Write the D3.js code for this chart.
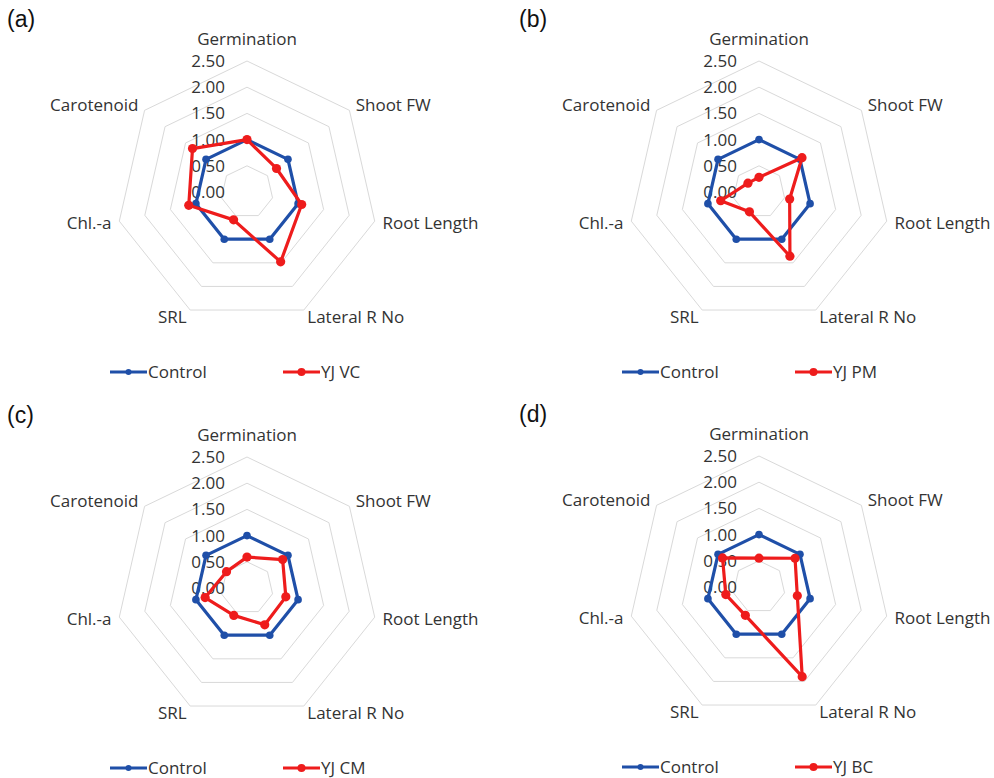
<!DOCTYPE html>
<html>
<head>
<meta charset="utf-8">
<script src="https://cdn.jsdelivr.net/npm/d3@7"></script>
<style>
  body { margin: 0; background: #fff; }
  svg text { font-family: "Open Sans", sans-serif; fill: #333; }
</style>
</head>
<body>
<div id="chart"></div>
<script>
const categories = ['Germination', 'Shoot FW', 'Root Length', 'Lateral R No', 'SRL', 'Chl.-a', 'Carotenoid'];
const tickValues = [0, 0.5, 1, 1.5, 2, 2.5];
const control = [1.00, 1.00, 1.00, 1.00, 1.00, 1.00, 1.00];
const yjVC = [1.00, 0.72, 1.07, 1.48, 0.59, 1.14, 1.33];
const yjPM = [0.28, 1.05, 0.60, 1.36, 0.42, 0.75, 0.27];
const yjCM = [0.59, 0.87, 0.76, 0.78, 0.58, 0.82, 0.50];
const yjBC = [0.55, 0.88, 0.75, 1.90, 0.60, 0.65, 0.89];
const panelLabels = ['(a)', '(b)', '(c)', '(d)'];
const treatmentNames = ['YJ VC', 'YJ PM', 'YJ CM', 'YJ BC'];
const treatments = [yjVC, yjPM, yjCM, yjBC];

const width = 994, height = 778;
const R = 131;
const blue = '#1f4fa8', red = '#ee1c1c';
const centers = [[247, 192], [759, 192], [247, 588], [759, 587]];

const svg = d3.select('#chart').append('svg')
  .attr('width', width)
  .attr('height', height);

const r = d3.scaleLinear().domain([0, 2.5]).range([0, R]);
const angle = d3.scaleLinear().domain([0, categories.length]).range([0, 2 * Math.PI]);

const radial = d3.lineRadial()
  .angle((d, i) => angle(i))
  .radius(d => r(d))
  .curve(d3.curveLinearClosed);

function point(i, v) {
  const a = angle(i) - Math.PI / 2;
  return [Math.cos(a) * r(v), Math.sin(a) * r(v)];
}

function drawPanel(k) {
  const [cx, cy] = centers[k];
  const g = svg.append('g').attr('transform', `translate(${cx},${cy})`);

  // panel letter
  svg.append('text')
    .attr('x', cx - 240)
    .attr('y', cy - 165)
    .style('font-family', '"Liberation Sans", Arial, sans-serif')
    .style('font-size', '23px')
    .style('fill', '#111')
    .text(panelLabels[k]);

  // grid rings
  g.selectAll('.ring')
    .data(tickValues.filter(t => t > 0))
    .enter().append('path')
    .attr('class', 'ring')
    .attr('d', t => radial(categories.map(() => t)))
    .style('fill', 'none')
    .style('stroke', '#d9d9d9')
    .style('stroke-width', 1);

  // tick labels
  g.selectAll('.tick')
    .data(tickValues)
    .enter().append('text')
    .attr('class', 'tick')
    .attr('x', -22)
    .attr('y', t => -r(t))
    .attr('dy', '0.35em')
    .style('text-anchor', 'end')
    .style('font-size', '17px')
    .text(t => d3.format('.2f')(t));

  // category labels
  categories.forEach((c, i) => {
    const a = angle(i) - Math.PI / 2;
    const cos = Math.cos(a), sin = Math.sin(a);
    const off = i === 0 ? 22 : 8;
    g.append('text')
      .attr('x', cos * (R + off))
      .attr('y', sin * (R + off))
      .attr('dy', '0.35em')
      .style('text-anchor', Math.abs(cos) < 0.1 ? 'middle' : (cos > 0 ? 'start' : 'end'))
      .style('font-size', '17px')
      .text(c);
  });

  const series = [
    { name: 'Control', values: control, color: blue, mr: 3.8 },
    { name: treatmentNames[k], values: treatments[k], color: red, mr: 4.6 }
  ];

  series.forEach(s => {
    g.append('path')
      .attr('d', radial(s.values))
      .style('fill', 'none')
      .style('stroke', s.color)
      .style('stroke-width', 3.2)
      .style('stroke-linejoin', 'round');

    g.selectAll(null)
      .data(s.values)
      .enter().append('circle')
      .attr('cx', (d, i) => point(i, d)[0])
      .attr('cy', (d, i) => point(i, d)[1])
      .attr('r', s.mr)
      .style('fill', s.color);
  });

  // legend
  const legend = g.append('g').attr('transform', 'translate(0,180)');
  const items = [
    { name: series[0].name, color: blue, x0: -137, mr: 3 },
    { name: series[1].name, color: red, x0: 36, mr: 4 }
  ];
  items.forEach(it => {
    legend.append('line')
      .attr('x1', it.x0).attr('x2', it.x0 + 37)
      .attr('y1', 0).attr('y2', 0)
      .style('stroke', it.color)
      .style('stroke-width', 3);
    legend.append('circle')
      .attr('cx', it.x0 + 18.5).attr('cy', 0)
      .attr('r', it.mr)
      .style('fill', it.color);
    legend.append('text')
      .attr('x', it.x0 + 38)
      .attr('y', 0)
      .attr('dy', '0.35em')
      .style('font-size', '17px')
      .text(it.name);
  });
}

centers.forEach((c, k) => drawPanel(k));
</script>
</body>
</html>
